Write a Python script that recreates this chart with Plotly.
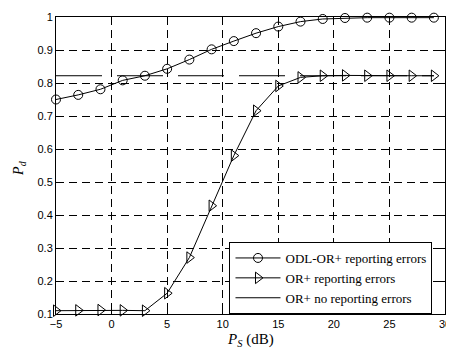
import plotly.graph_objects as go

ps_db = [-5, -3, -1, 1, 3, 5, 7, 9, 11, 13, 15, 17, 19, 21, 23, 25, 27, 29]
odl_or_err = [0.750, 0.764, 0.781, 0.808, 0.822, 0.843, 0.871, 0.902, 0.927, 0.951,
              0.971, 0.986, 0.994, 0.997, 0.998, 0.998, 0.998, 0.998]
or_err = [0.110, 0.111, 0.112, 0.111, 0.110, 0.163, 0.271, 0.428, 0.580, 0.716,
          0.791, 0.817, 0.822, 0.823, 0.822, 0.822, 0.822, 0.822]
or_noerr_x = [-5, 29]
or_noerr = [0.822, 0.822]

x_ticks = [-5, 0, 5, 10, 15, 20, 25, 30]
y_ticks = [0.1, 0.2, 0.3, 0.4, 0.5, 0.6, 0.7, 0.8, 0.9, 1.0]
y_ticktext = ["0.1", "0.2", "0.3", "0.4", "0.5", "0.6", "0.7", "0.8", "0.9", "1"]

fig = go.Figure()
fig.add_trace(go.Scatter(
    x=ps_db, y=odl_or_err, mode="lines+markers", name="ODL-OR+ reporting errors",
    line=dict(color="black", width=1), cliponaxis=False,
    marker=dict(symbol="circle-open", size=9, color="black", line=dict(width=1)),
))
fig.add_trace(go.Scatter(
    x=ps_db, y=or_err, mode="lines+markers", name="OR+ reporting errors",
    line=dict(color="black", width=1), cliponaxis=False,
    marker=dict(symbol="triangle-right-open", size=10, color="black", line=dict(width=1)),
))
fig.add_trace(go.Scatter(
    x=or_noerr_x, y=or_noerr, mode="lines", name="OR+ no reporting errors",
    line=dict(color="black", width=1, dash="46px,15px"),
))

axis_common = dict(
    showline=True, linecolor="black", linewidth=1, mirror="ticks",
    ticks="inside", ticklen=5, tickcolor="black",
    showgrid=True, gridcolor="black", gridwidth=1, griddash="8px,5px",
    zeroline=False, ticklabeloverflow="allow",
    tickfont=dict(family="Liberation Sans, Arial", size=11, color="black"),
)

# page body has an 8px default margin; the figure is sized so the plot area
# lands at x 56..451, y 13..314 in the window
fig.update_layout(
    width=446, height=343,
    margin=dict(l=48, r=3, t=5, b=37),
    paper_bgcolor="white", plot_bgcolor="white",
    showlegend=True,
    legend=dict(
        x=0.446, y=0.0, xanchor="left", yanchor="bottom",
        bgcolor="white", bordercolor="black", borderwidth=1,
        font=dict(family="Liberation Serif, Times New Roman, serif", size=13, color="black"),
        tracegroupgap=0, itemwidth=45,
    ),
    xaxis=dict(range=[-5, 30], tickvals=x_ticks, **axis_common),
    yaxis=dict(range=[0.1, 1.0], tickvals=y_ticks, ticktext=y_ticktext, **axis_common),
    annotations=[
        dict(text="<i>P</i><sub><i>S</i></sub> (dB)", x=0.5, y=-0.086,
             xref="paper", yref="paper", xanchor="center", yanchor="middle",
             showarrow=False,
             font=dict(family="Liberation Serif, Times New Roman, serif", size=15, color="black")),
        dict(text="<i>P</i><sub><i>d</i></sub>", x=-0.094, y=0.49,
             xref="paper", yref="paper", xanchor="center", yanchor="middle",
             textangle=-90, showarrow=False,
             font=dict(family="Liberation Serif, Times New Roman, serif", size=14, color="black")),
    ],
)

fig.write_html("out.html")
